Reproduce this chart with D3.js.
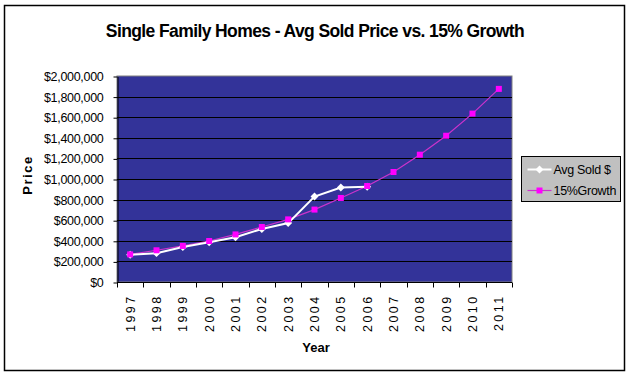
<!DOCTYPE html>
<html>
<head>
<meta charset="utf-8">
<script src="https://cdn.jsdelivr.net/npm/d3@7"></script>
<style>
body { margin: 0; background: #fff; }
svg { font-family: "Liberation Sans", Arial, sans-serif; }
</style>
</head>
<body>
<div id="chart"></div>
<script>
var years = ["1997","1998","1999","2000","2001","2002","2003","2004","2005","2006","2007","2008","2009","2010","2011"];
var avgSold = [265000, 280000, 340000, 385000, 435000, 515000, 572000, 830000, 918000, 925000];
var growth = [268000, 308000, 350000, 398000, 462000, 534000, 608000, 703000, 816000, 932000, 1068000, 1236000, 1420000, 1635000, 1875000];
var yTicks = [0, 200000, 400000, 600000, 800000, 1000000, 1200000, 1400000, 1600000, 1800000, 2000000];

var width = 630, height = 376;
var plot = { left: 117, top: 76, right: 512, bottom: 282 };

var svg = d3.select('#chart')
    .append('svg')
    .attr('width', width)
    .attr('height', height)

// outer border
svg.append('rect')
    .attr('x', 4.5).attr('y', 5.5)
    .attr('width', 620).attr('height', 365)
    .attr('fill', '#fff')
    .attr('stroke', '#000')
    .attr('stroke-width', 1.5)

var x = d3.scaleBand()
    .domain(years)
    .range([plot.left, plot.right])

var y = d3.scaleLinear()
    .domain([0, 2000000])
    .range([plot.bottom, plot.top])

// plot area
svg.append('rect')
    .attr('x', plot.left).attr('y', plot.top)
    .attr('width', plot.right - plot.left)
    .attr('height', plot.bottom - plot.top)
    .attr('fill', '#333399')
    .attr('stroke', '#808080')

// gridlines
svg.append('g')
    .selectAll('line')
    .data(yTicks.slice(1, -1))
    .enter()
    .append('line')
    .attr('x1', plot.left).attr('x2', plot.right)
    .attr('y1', function(d) { return Math.round(y(d)) + 0.5 })
    .attr('y2', function(d) { return Math.round(y(d)) + 0.5 })
    .attr('stroke', '#000')

var fmt = function(d) { return '$' + d3.format(',')(d) }

var yAxisG = svg.append('g')
    .attr('transform', 'translate(' + (plot.left + 0.5) + ',0.5)')
    .call(d3.axisLeft(y).tickValues(yTicks).tickFormat(fmt).tickSizeInner(4).tickSizeOuter(0).tickPadding(10))
yAxisG.selectAll('text').attr('font-size', 12.5).attr('fill', '#000')
    .attr('font-family', '"Liberation Sans", Arial, sans-serif')
    .attr('letter-spacing', -0.3)
yAxisG.selectAll('line, path').attr('stroke', '#000')

// x axis: ticks at band edges
var xAxisG = svg.append('g')
    .attr('transform', 'translate(0,' + (plot.bottom + 0.5) + ')')
xAxisG.append('line')
    .attr('x1', plot.left).attr('x2', plot.right)
    .attr('stroke', '#000')
xAxisG.selectAll('.tk')
    .data(years.concat(['end']))
    .enter()
    .append('line')
    .attr('class', 'tk')
    .attr('x1', function(d, i) { return Math.round(plot.left + i * x.step()) + 0.5 })
    .attr('x2', function(d, i) { return Math.round(plot.left + i * x.step()) + 0.5 })
    .attr('y1', 0).attr('y2', 5)
    .attr('stroke', '#000')
xAxisG.selectAll('text')
    .data(years)
    .enter()
    .append('text')
    .attr('transform', function(d) {
        return 'translate(' + (x(d) + x.bandwidth() / 2 + 4.5) + ',12) rotate(-90)'
    })
    .attr('text-anchor', 'end')
    .attr('font-size', 12.5)
    .attr('letter-spacing', 2.4)
    .text(function(d) { return d })

var cx = function(i) { return x(years[i]) + x.bandwidth() / 2 }

// growth series
svg.append('path')
    .datum(growth)
    .attr('fill', 'none')
    .attr('stroke', '#cc33cc')
    .attr('stroke-width', 1.2)
    .attr('d', d3.line().x(function(d, i) { return cx(i) }).y(function(d) { return y(d) }))

// avg sold series
svg.append('path')
    .datum(avgSold)
    .attr('fill', 'none')
    .attr('stroke', '#fff')
    .attr('stroke-width', 2)
    .attr('d', d3.line().x(function(d, i) { return cx(i) }).y(function(d) { return y(d) }))

svg.append('g')
    .selectAll('path')
    .data(avgSold)
    .enter()
    .append('path')
    .attr('d', d3.symbol().type(d3.symbolDiamond2).size(40))
    .attr('transform', function(d, i) { return 'translate(' + cx(i) + ',' + y(d) + ')' })
    .attr('fill', '#fff')

svg.append('g')
    .selectAll('rect')
    .data(growth)
    .enter()
    .append('rect')
    .attr('x', function(d, i) { return cx(i) - 3 })
    .attr('y', function(d) { return y(d) - 3 })
    .attr('width', 6).attr('height', 6)
    .attr('fill', '#ff00ff')

// title
svg.append('text')
    .attr('x', 315).attr('y', 37)
    .attr('text-anchor', 'middle')
    .attr('font-size', 17.5)
    .attr('font-weight', 'bold')
    .attr('letter-spacing', -0.6)
    .text('Single Family Homes - Avg Sold Price vs. 15% Growth')

svg.append('text')
    .attr('x', 316).attr('y', 352)
    .attr('text-anchor', 'middle')
    .attr('font-size', 13)
    .attr('font-weight', 'bold')
    .text('Year')

svg.append('text')
    .attr('transform', 'translate(32,175) rotate(-90)')
    .attr('text-anchor', 'middle')
    .attr('font-size', 13)
    .attr('font-weight', 'bold')
    .attr('letter-spacing', 1.5)
    .text('Price')

// legend
var legend = svg.append('g').attr('transform', 'translate(521.5,156.5)')
legend.append('rect')
    .attr('width', 99).attr('height', 45)
    .attr('fill', '#c0c0c0')
    .attr('stroke', '#000')
var names = ['Avg Sold $', '15%Growth']
legend.selectAll('g.item')
    .data(names)
    .enter()
    .append('g')
    .attr('class', 'item')
    .attr('transform', function(d, i) { return 'translate(0,' + (13 + i * 21) + ')' })
    .each(function(d, i) {
        var g = d3.select(this)
        g.append('line')
            .attr('x1', 6).attr('x2', 30)
            .attr('stroke', i == 0 ? '#fff' : '#cc33cc')
            .attr('stroke-width', i == 0 ? 2 : 1.2)
        if (i == 0) {
            g.append('path')
                .attr('d', d3.symbol().type(d3.symbolDiamond2).size(40))
                .attr('transform', 'translate(18,0)')
                .attr('fill', '#fff')
        } else {
            g.append('rect')
                .attr('x', 15).attr('y', -3).attr('width', 6).attr('height', 6)
                .attr('fill', '#ff00ff')
        }
        g.append('text')
            .attr('x', 32).attr('y', 4.5)
            .attr('font-size', 12.5)
            .attr('letter-spacing', -0.3)
            .text(d)
    })
</script>
</body>
</html>
